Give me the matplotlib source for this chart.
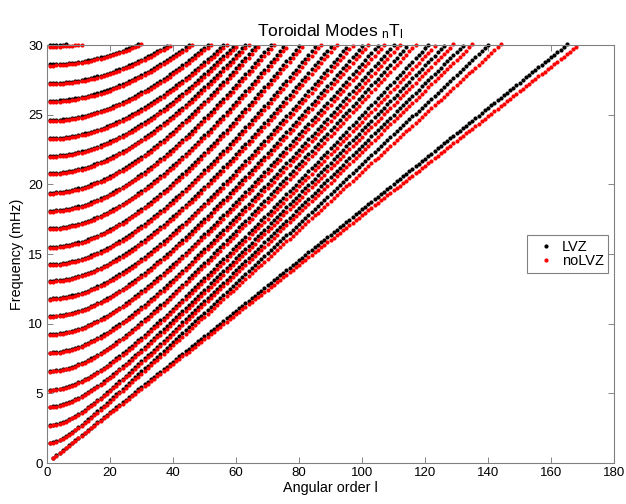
import numpy as np
import matplotlib
matplotlib.use("Agg")
import matplotlib.pyplot as plt

plt.rcParams['font.family'] = ['Liberation Sans', 'DejaVu Sans']
plt.rcParams['mathtext.fontset'] = 'custom'
plt.rcParams['mathtext.rm'] = 'Liberation Sans'
plt.rcParams['mathtext.it'] = 'Liberation Sans'

# overtone number n
overtones = list(range(24))
# frequency (mHz) at the lowest angular order of each branch
f_start_lvz = [0.0, 1.44, 2.70, 4.04, 5.24, 6.60, 7.92, 9.24, 10.55, 11.80, 13.07, 14.26,
               15.50, 16.85, 18.10, 19.40, 20.80, 22.04, 23.30, 24.60, 25.99, 27.25, 28.60, 29.97]
f_start_nolvz = [0.0, 1.40, 2.66, 3.99, 5.19, 6.55, 7.86, 9.18, 10.49, 11.73, 13.00, 14.19,
                 15.43, 16.78, 18.03, 19.33, 20.73, 21.97, 23.22, 24.52, 25.91, 27.17, 28.52, 29.86]
# angular order at which each branch reaches 30 mHz
l_top_lvz = [164.8, 140.0, 132.2, 126.3, 121.0, 114.7, 110.0, 105.2, 100.4, 95.7, 90.5, 85.6,
             80.3, 75.6, 71.0, 66.5, 63.0, 59.5, 56.0, 51.0, 45.0, 38.5, 28.5, 4.0]
l_top_nolvz = [168.7, 143.8, 134.8, 128.8, 123.4, 116.9, 112.0, 107.0, 102.0, 97.2, 91.9, 86.9,
               81.5, 76.7, 72.1, 67.5, 64.0, 60.5, 57.0, 52.0, 46.0, 39.5, 29.5, 10.0]
l_first = [2] + [1] * 23

F_MAX = 30.0

def branch(f0, ltop, lmin):
    l = np.arange(lmin, 181)
    c = np.sqrt(F_MAX**2 - f0**2) / ltop
    f = np.sqrt(f0**2 + (c * l)**2)
    keep = f <= F_MAX + 0.05
    return l[keep], f[keep]

fig = plt.figure(figsize=(6.26, 5.04), dpi=100)
ax = fig.add_axes([0.075, 0.0813, 0.906, 0.8294])

lv_l, lv_f, nl_l, nl_f = [], [], [], []
for n in overtones:
    a, b = branch(f_start_lvz[n], l_top_lvz[n], l_first[n])
    lv_l.append(a); lv_f.append(b)
    a, b = branch(f_start_nolvz[n], l_top_nolvz[n], l_first[n])
    nl_l.append(a); nl_f.append(b)

ax.plot(np.concatenate(lv_l), np.concatenate(lv_f), 'o', color='black', ms=3.0,
        mew=0, label='LVZ', clip_on=False)
ax.plot(np.concatenate(nl_l), np.concatenate(nl_f), 'o', color='red', ms=3.0,
        mew=0, label='noLVZ', clip_on=False)

ax.set_xlim(0, 180)
ax.set_ylim(0, 30)
ax.set_xticks(np.arange(0, 181, 20))
ax.set_yticks(np.arange(0, 31, 5))
ax.tick_params(direction='in', top=True, right=True, labelsize=9.5, length=4,
               width=0.6, color='0.45', pad=3)
for s in ax.spines.values():
    s.set_color('0.5')
    s.set_linewidth(0.8)

ax.set_xlabel('Angular order l', fontsize=10.4, labelpad=1.5)
ax.set_ylabel('Frequency (mHz)', fontsize=10.4, labelpad=3)
ax.set_title(r'Toroidal Modes $_\mathrm{n}$T$_\mathrm{l}$', fontsize=12.5, pad=6)

leg = ax.legend(loc='center right', bbox_to_anchor=(1.0, 0.5), borderaxespad=0.4,
                fontsize=10.5, markerscale=1.0, handlelength=2.0, handletextpad=0.1,
                borderpad=0.3, labelspacing=0.05, fancybox=False, framealpha=1)
leg.get_frame().set_edgecolor('0.5')
leg.get_frame().set_linewidth(0.8)

fig.savefig('out.png', dpi=100)
